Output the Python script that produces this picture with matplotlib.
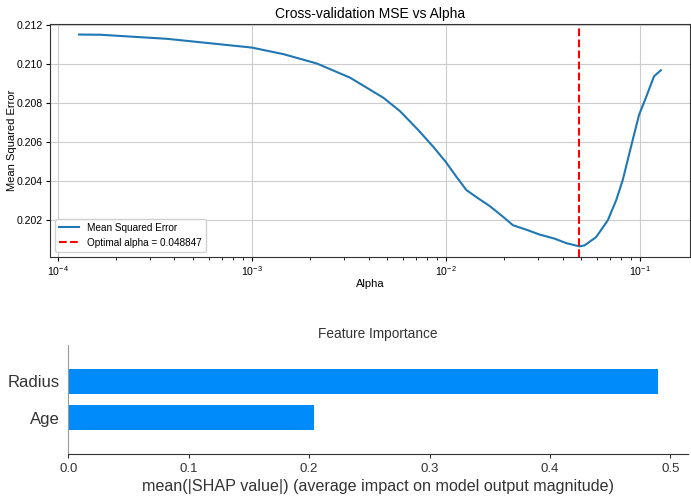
import numpy as np
import matplotlib
matplotlib.use('Agg')
import matplotlib.pyplot as plt

plt.rcParams['font.family'] = ['Liberation Sans', 'DejaVu Sans']

# Cross-validation curve
alphas = [1.29e-4, 1.66e-4, 3.66e-4, 1.0e-3, 1.457e-3, 2.164e-3, 3.21e-3, 4.76e-3,
          5.80e-3, 7.2e-3, 8.60e-3, 0.01, 0.01135, 0.01277, 0.01466, 0.01683,
          0.0197, 0.02218, 0.026, 0.03043, 0.03634, 0.04174, 0.048847, 0.05184,
          0.05953, 0.06832, 0.07544, 0.08156, 0.08654, 0.09183, 0.0991, 0.1072,
          0.1183, 0.1282]
mse = [0.21153, 0.21152, 0.21131, 0.21086, 0.21052, 0.21004, 0.20931, 0.20828,
       0.20759, 0.20662, 0.20576, 0.20497, 0.2042, 0.20352, 0.2031, 0.2027,
       0.20215, 0.20171, 0.20148, 0.20123, 0.20102, 0.20079, 0.20062, 0.20067,
       0.2011, 0.20196, 0.20299, 0.20403, 0.20506, 0.2061, 0.2074, 0.20826,
       0.20938, 0.20969]
best_alpha = 0.048847

# SHAP feature importance
features = ['Age', 'Radius']
importance = [0.2042, 0.4896]

fig = plt.figure(figsize=(6.91, 4.99), dpi=100)

# top panel
ax1 = fig.add_axes([0.0724, 0.485, 0.926, 0.467])
ax1.plot(alphas, mse, color='#1f77b4', lw=1.5, label='Mean Squared Error')
ax1.axvline(best_alpha, color='red', ls='--', lw=1.5, label=f'Optimal alpha = {best_alpha:.6f}')
ax1.set_xscale('log')
ax1.grid(True, color='#cccccc', lw=0.8)
ax1.set_title('Cross-validation MSE vs Alpha', fontsize=10, pad=4)
ax1.set_xlabel('Alpha', fontsize=8, labelpad=1)
ax1.set_ylabel('Mean Squared Error', fontsize=8)
ax1.yaxis.set_label_coords(-0.0516, 0.5)
ax1.tick_params(labelsize=7.6, length=3, pad=2)
ax1.tick_params(which='minor', length=2)
ax1.yaxis.set_major_formatter(matplotlib.ticker.FormatStrFormatter('%.3f'))
for s in ax1.spines.values():
    s.set_color('#333333')
ax1.legend(loc='lower left', fontsize=7.2, framealpha=0.9)

# bottom panel
ax2 = fig.add_axes([0.0988, 0.0902, 0.897, 0.218])
ypos = np.arange(len(features))
ax2.barh(ypos, importance, height=0.7, color='#008bfb')
ax2.set_yticks(ypos)
ax2.set_yticklabels(features, fontsize=12, color='#333333')
ax2.set_ylim(-1, len(features))
ax2.set_xlim(0, 0.5147)
ax2.set_xticks([0.0, 0.1, 0.2, 0.3, 0.4, 0.5])
ax2.tick_params(axis='y', length=0, pad=6)
ax2.tick_params(axis='x', labelsize=9.5, colors='#333333', labelcolor='#333333', length=3)
ax2.spines['top'].set_visible(False)
ax2.spines['right'].set_visible(False)
ax2.spines['left'].set_color('#999999')
ax2.spines['bottom'].set_color('#333333')
ax2.set_xlabel('mean(|SHAP value|) (average impact on model output magnitude)',
               fontsize=11.6, color='#333333', labelpad=3)
ax2.set_title('Feature Importance', fontsize=9.8, color='#333333', pad=5)

fig.savefig('out.png', dpi=100)
